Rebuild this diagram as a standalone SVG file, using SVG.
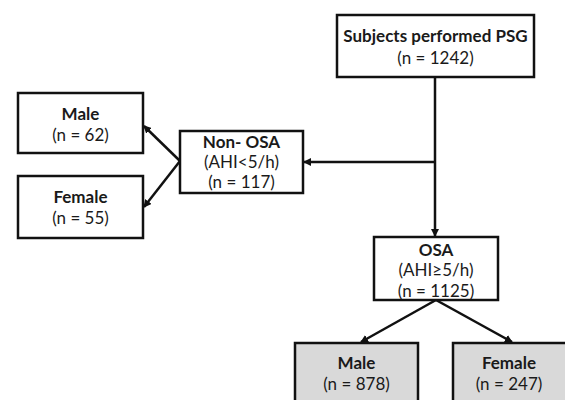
<svg xmlns="http://www.w3.org/2000/svg" width="565" height="400" viewBox="0 0 565 400">
<style>
.box{fill:#fff;stroke:#111;stroke-width:2.5}
.gbox{fill:#d9d9d9;stroke:#111;stroke-width:2.5}
.t{font-family:Lato,"Open Sans",sans-serif;font-size:17px;fill:#1a1a1a;text-anchor:middle}
.b{font-weight:bold}
.c{fill:none;stroke:#111;stroke-width:2.5}
</style>
<defs>
<marker id="ah" markerWidth="8" markerHeight="8" refX="7" refY="4" orient="auto" markerUnits="userSpaceOnUse" viewBox="0 0 8 8">
<path d="M0,0 L8,4 L0,8 Z" fill="#111"/>
</marker>
</defs>
<g id="connectors">
<line class="c" x1="435" y1="77" x2="435" y2="236" marker-end="url(#ah)"/>
<line class="c" x1="435" y1="162" x2="304" y2="162" marker-end="url(#ah)"/>
<line class="c" x1="180" y1="161" x2="144" y2="126" marker-end="url(#ah)"/>
<line class="c" x1="180" y1="161" x2="144" y2="207" marker-end="url(#ah)"/>
<line class="c" x1="436" y1="300" x2="361" y2="342" marker-end="url(#ah)"/>
<line class="c" x1="436" y1="300" x2="512" y2="342" marker-end="url(#ah)"/>
</g>
<g id="psg">
<rect class="box" x="337" y="15" width="197" height="62"/>
<text class="t b" x="435.5" y="42">Subjects performed PSG</text>
<text class="t" x="435.5" y="64">(n = 1242)</text>
</g>
<g id="nonosa">
<rect class="box" x="180" y="131" width="123" height="62"/>
<text class="t b" x="241.5" y="148">Non- OSA</text>
<text class="t" x="241.5" y="168">(AHI&lt;5/h)</text>
<text class="t" x="241.5" y="188">(n = 117)</text>
</g>
<g id="male1">
<rect class="box" x="18" y="93" width="125" height="60"/>
<text class="t b" x="80.5" y="120">Male</text>
<text class="t" x="80.5" y="141">(n = 62)</text>
</g>
<g id="female1">
<rect class="box" x="18" y="176" width="125" height="62"/>
<text class="t b" x="80.5" y="203">Female</text>
<text class="t" x="80.5" y="224">(n = 55)</text>
</g>
<g id="osa">
<rect class="box" x="374" y="237" width="124" height="63"/>
<text class="t b" x="436" y="256">OSA</text>
<text class="t" x="436" y="276">(AHI≥5/h)</text>
<text class="t" x="436" y="297">(n = 1125)</text>
</g>
<g id="male2">
<rect class="gbox" x="295" y="343" width="123" height="70"/>
<text class="t b" x="356.5" y="369">Male</text>
<text class="t" x="356.5" y="390">(n = 878)</text>
</g>
<g id="female2">
<rect class="gbox" x="453" y="343" width="125" height="70"/>
<text class="t b" x="509" y="369">Female</text>
<text class="t" x="509" y="390">(n = 247)</text>
</g>
</svg>
